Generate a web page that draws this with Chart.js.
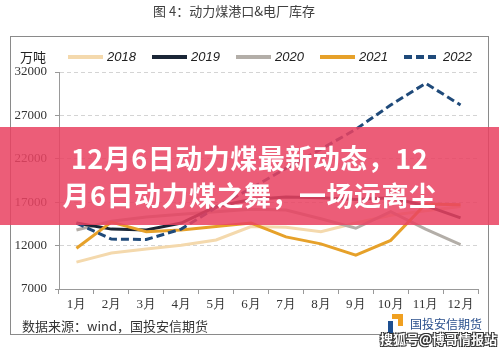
<!DOCTYPE html>
<html>
<head>
<meta charset="utf-8">
<script src="https://cdn.jsdelivr.net/npm/chart.js"></script>
<style>
  html, body { margin: 0; padding: 0; background: #fff; }
  #wrap { position: relative; width: 499px; height: 352px; overflow: hidden; }
  #chart { position: absolute; left: 0; top: 0; }
  #banner {
    position: absolute; left: 0; top: 127px; width: 499px; height: 98px;
    box-sizing: border-box; padding-top: 12px;
    background: rgba(233, 66, 98, 0.86);
    color: #fff; font: 700 27px "Noto Sans CJK SC", sans-serif;
    letter-spacing: 0.5px; line-height: 37px; text-align: center; white-space: nowrap;
  }
  #logo-blue { position: absolute; left: 388px; top: 321px; width: 5px; height: 19px; background: #1d4f91; }
  #logo-orange { position: absolute; left: 392px; top: 314px; width: 11px; height: 12px;
    border-top: 5px solid #f0a020; border-right: 5px solid #f0a020; box-sizing: border-box; }
  #logo-text { position: absolute; left: 410px; top: 315px; font: 12px "Noto Sans CJK SC", sans-serif; color: #2a4f8c; }
  #sohu { position: absolute; left: 380px; top: 329px; font: 700 13px "Noto Sans CJK SC", sans-serif;
    color: #fff;
    text-shadow: -1px -1px 0 #333, 1px -1px 0 #333, -1px 1px 0 #333, 1px 1px 0 #333; }
</style>
</head>
<body>
<div id="wrap">
  <canvas id="chart" width="499" height="352"></canvas>
  <div id="banner">12月6日动力煤最新动态，12<br>月6日动力煤之舞，一场远离尘</div>
  <div id="logo-blue"></div>
  <div id="logo-orange"></div>
  <div id="logo-text">国投安信期货</div>
  <div id="sohu">搜狐号@博哥情报站</div>
</div>
<script>
const months = ['1月', '2月', '3月', '4月', '5月', '6月', '7月', '8月', '9月', '10月', '11月', '12月'];
const seriesNames = ['2018', '2019', '2020', '2021', '2022'];

const stock2018 = [10100, 11150, 11600, 12050, 12650, 14200, 14100, 13600, 14600, 15500, 16000, 16500];
const stock2019 = [14600, 13900, 13800, 14600, 16500, 17300, 17600, 17500, 17300, 17500, 16600, 15200];
const stock2020 = [13800, 14800, 15300, 15600, 15900, 16200, 16100, 15100, 14000, 15900, 13900, 12100];
const stock2021 = [11700, 14700, 13600, 13800, 14200, 14600, 13000, 12200, 10900, 12600, 16800, 16700];
const stock2022 = [14600, 12750, 12700, 13900, 16400, 18600, 20900, 23100, 25400, 28200, 30700, 28200];

const yTicks = [7000, 12000, 17000, 22000, 27000, 32000];

const titleText = '图 4：动力煤港口&电厂库存';
const unitText = '万吨';
const sourceText = '数据来源：wind，国投安信期货';

const colors = ['#f4d9ad', '#1a2636', '#b3aea8', '#e6a12a', '#1f4a7a'];

// frame, title, unit, legend and source drawn around the plot
const decor = {
  id: 'decor',
  beforeDraw(chart) {
    const ctx = chart.ctx;
    ctx.save();
    ctx.fillStyle = '#fff';
    ctx.fillRect(0, 0, chart.width, chart.height);

    ctx.strokeStyle = '#8a8a8a';
    ctx.lineWidth = 1;
    ctx.strokeRect(10.5, 36.5, 478, 298);

    ctx.textBaseline = 'middle';
    ctx.fillStyle = '#404040';
    ctx.font = '13px "Noto Sans CJK SC"';
    ctx.textAlign = 'center';
    ctx.fillText(titleText, 234, 11);

    ctx.fillStyle = '#222';
    ctx.font = '13px "Noto Sans CJK SC"';
    ctx.fillText(unitText, 33, 57);

    ctx.textAlign = 'left';
    ctx.fillStyle = '#333';
    ctx.fillText(sourceText, 22, 326);

    // legend
    chart.data.datasets.forEach((ds, i) => {
      const x = 68 + i * 84;
      ctx.beginPath();
      ctx.strokeStyle = ds.borderColor;
      ctx.lineWidth = 4;
      ctx.setLineDash(ds.borderDash ? [8, 4] : []);
      ctx.moveTo(x, 57);
      ctx.lineTo(x + 35, 57);
      ctx.stroke();
      ctx.setLineDash([]);
      ctx.fillStyle = '#222';
      ctx.font = 'italic 13px "Liberation Sans"';
      ctx.fillText(ds.label, x + 39, 57);
    });
    ctx.restore();
  }
};

const allSeries = [stock2018, stock2019, stock2020, stock2021, stock2022];
const drawOrder = [5, 3, 4, 2, 1];

new Chart(document.getElementById('chart'), {
  type: 'line',
  data: {
    labels: months,
    datasets: allSeries.map((vals, i) => ({
      label: seriesNames[i],
      data: vals,
      borderColor: colors[i],
      backgroundColor: colors[i],
      borderWidth: 3,
      borderDash: i === 4 ? [8, 4] : undefined,
      pointRadius: 0,
      tension: 0,
      fill: false,
      order: drawOrder[i]
    }))
  },
  options: {
    responsive: false,
    animation: false,
    layout: { padding: { top: 72, right: 21, bottom: 38, left: 0 } },
    plugins: {
      legend: { display: false },
      title: { display: false },
      tooltip: { enabled: false }
    },
    scales: {
      x: {
        offset: true,
        afterFit: s => { s.height = 25; },
        grid: { drawOnChartArea: false, drawTicks: true, tickLength: 5, offset: true, color: '#999' },
        border: { color: '#999' },
        ticks: { color: '#333', padding: 3, maxRotation: 0, font: { family: '"Liberation Serif", serif', size: 13 } }
      },
      y: {
        min: 7000,
        max: 32000,
        afterFit: s => { s.width = 59; },
        afterBuildTicks: s => { s.ticks = yTicks.map(v => ({ value: v })); },
        grid: { color: '#d4d4d4', tickColor: '#999', tickLength: 4 },
        border: { color: '#999', dash: [4, 3] },
        ticks: {
          color: '#333', padding: 8,
          font: { family: '"Liberation Serif", serif', size: 13 },
          callback: v => String(v)
        }
      }
    }
  },
  plugins: [decor]
});
</script>
</body>
</html>
